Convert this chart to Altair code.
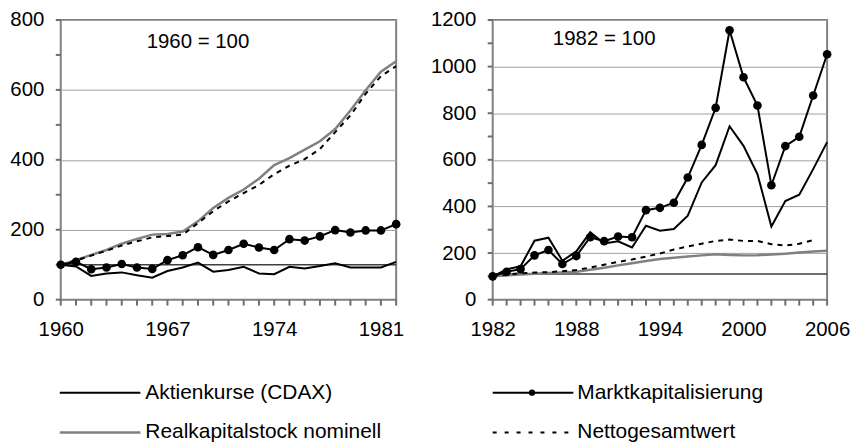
import altair as alt
import pandas as pd

# ---------------- data ----------------
left_years = list(range(1960, 1983))
left_aktien = [100, 95, 68, 75, 78, 70, 63, 82, 92, 106, 80, 85, 94, 75, 73, 94, 89, 96, 104, 92, 92, 92, 108]
left_markt = [100, 108, 87, 92, 102, 92, 88, 113, 127, 150, 128, 142, 160, 149, 142, 173, 169, 181, 199, 192, 198, 198, 216]
left_real = [100, 113, 128, 142, 160, 174, 186, 188, 195, 224, 262, 291, 315, 346, 385, 405, 429, 453, 488, 541, 599, 652, 682]
left_netto = [100, 112, 126, 140, 155, 167, 178, 182, 186, 219, 253, 281, 305, 328, 359, 383, 402, 431, 479, 527, 589, 639, 668]

right_years = list(range(1982, 2007))
right_aktien = [100, 130, 143, 253, 266, 167, 207, 289, 241, 250, 224, 317, 296, 303, 360, 503, 577, 744, 660, 539, 314, 423, 450, 560, 676]
right_markt = [100, 120, 131, 190, 213, 153, 187, 268, 251, 271, 268, 384, 394, 416, 524, 664, 823, 1156, 954, 833, 491, 659, 699, 876, 1053]
right_real = [100, 104, 108, 111, 114, 117, 120, 128, 137, 147, 156, 166, 174, 180, 185, 190, 195, 192, 190, 191, 194, 197, 202, 207, 210]
right_netto = [100, 108, 113, 116, 118, 122, 127, 138, 150, 162, 172, 185, 198, 215, 228, 240, 252, 258, 252, 252, 238, 232, 240, 255, None]

left_note = "1960 = 100"
right_note = "1982 = 100"
left_base = [100]
right_base = [110]

series_names = ["Aktienkurse (CDAX)", "Marktkapitalisierung", "Realkapitalstock nominell", "Nettogesamtwert"]

FONT = "Liberation Sans"
GRAY = "#808080"
TICK = "#6e6e6e"
AXFS = 20.5
H = 281


def panel(years, aktien, markt, real, netto, ymax, step, note, note_x, note_y, base_val, width, extra=None):
    x0 = years[0]
    yticks = list(range(0, ymax + 1, 100))
    xaxis = alt.Axis(
        values=years,
        format="d",
        labelExpr=f"(datum.value - {x0}) % {step} == 0 ? datum.label : ''",
        grid=False, domain=False, ticks=False,
        labelFontSize=AXFS, labelPadding=20, labelFont=FONT, labelColor="black",
        labelOverlap=False, labelFlush=False, title=None,
    )
    yaxis = alt.Axis(
        values=yticks,
        format="d",
        labelExpr="datum.value % 200 == 0 ? datum.label : ''",
        grid=True, gridColor="#a0a0a0", gridWidth=1,
        gridOpacity={"condition": {"test": "datum.value % 200 == 0 && datum.value > 0", "value": 1}, "value": 0},
        domain=False, ticks=False,
        labelFontSize=AXFS, labelPadding=17, labelFont=FONT, labelColor="black",
        labelOverlap=False, title=None,
    )
    xs = alt.X("year:Q", scale=alt.Scale(domain=[years[0], years[-1]], nice=False, zero=False), axis=xaxis)
    ys = alt.Y("value:Q", scale=alt.Scale(domain=[0, ymax], nice=False), axis=yaxis)

    def lines(values, color, w, dash=None, points=False):
        df = pd.DataFrame({"year": years, "value": values})
        kw = dict(color=color, strokeWidth=w)
        if dash:
            kw["strokeDash"] = dash
        out = [alt.Chart(df).mark_line(**kw).encode(x=xs, y=ys)]
        if points:
            out.append(alt.Chart(df).mark_circle(color="black", opacity=1, size=75).encode(x=xs, y=ys))
        return out

    # tick marks drawn through the scales
    xtick = alt.Chart(pd.DataFrame({"year": years})).mark_rule(color=TICK, strokeWidth=2).encode(
        x=xs, y=alt.value(H), y2=alt.value(H + 6))
    ytick = alt.Chart(pd.DataFrame({"value": yticks})).mark_rule(color=TICK, strokeWidth=2).encode(
        y=ys, x=alt.value(-5), x2=alt.value(0))

    base_rule = alt.Chart(pd.DataFrame({"value": base_val})).mark_rule(
        color="#404040", strokeWidth=1.5).encode(y=ys)

    layers = [xtick, ytick, base_rule]
    layers += lines(real, GRAY, 2.5)
    layers += lines(netto, "black", 2, dash=[5, 5])
    layers += lines(aktien, "black", 2)
    layers += lines(markt, "black", 2, points=True)

    note_df = pd.DataFrame({"year": [note_x], "value": [note_y], "t": [note]})
    layers.append(
        alt.Chart(note_df).mark_text(fontSize=AXFS, font=FONT, color="black", align="center", baseline="middle")
        .encode(x=xs, y=ys, text="t:N")
    )
    if extra:
        layers += extra
    return alt.layer(*layers).properties(width=width, height=H)


# ---------------- legend (layout in left panel coordinates) ----------------
legend_layers = []
row_y = [374.5, 414.5]
col_line = [(-1, 80, 85), (434, 515, 519)]
styles = [
    dict(color="black", strokeWidth=2),
    dict(color="black", strokeWidth=2),
    dict(color=GRAY, strokeWidth=2.5),
    dict(color="black", strokeWidth=2, strokeDash=[4, 8]),
]
positions = [(0, 0), (1, 0), (0, 1), (1, 1)]
for name, st, (c, r) in zip(series_names, styles, positions):
    x1, x2, tx = col_line[c]
    y = row_y[r]
    legend_layers.append(
        alt.Chart(pd.DataFrame({"a": [0]})).mark_rule(**st).encode(
            x=alt.value(x1), x2=alt.value(x2), y=alt.value(y)
        )
    )
    legend_layers.append(
        alt.Chart(pd.DataFrame({"a": [0]})).mark_text(
            fontSize=21, font=FONT, color="black", align="left", baseline="middle"
        ).encode(x=alt.value(tx), y=alt.value(y), text=alt.value(name))
    )
legend_layers.append(
    alt.Chart(pd.DataFrame({"a": [0]})).mark_circle(color="black", opacity=1, size=40).encode(
        x=alt.value((col_line[1][0] + col_line[1][1]) / 2 - 1), y=alt.value(row_y[0])
    )
)

left = panel(left_years, left_aktien, left_markt, left_real, left_netto, 800, 7,
             left_note, 1969, 738, left_base, 337, extra=legend_layers)
right = panel(right_years, right_aktien, right_markt, right_real, right_netto, 1200, 6,
              right_note, 1990, 1118, right_base, 336)

chart = alt.hconcat(left, right, spacing=97, bounds="flush").properties(
    padding=0
).configure(font=FONT).configure_view(stroke=GRAY, strokeWidth=2)

chart.save("out.html", embed_options={"renderer": "svg", "actions": False})
